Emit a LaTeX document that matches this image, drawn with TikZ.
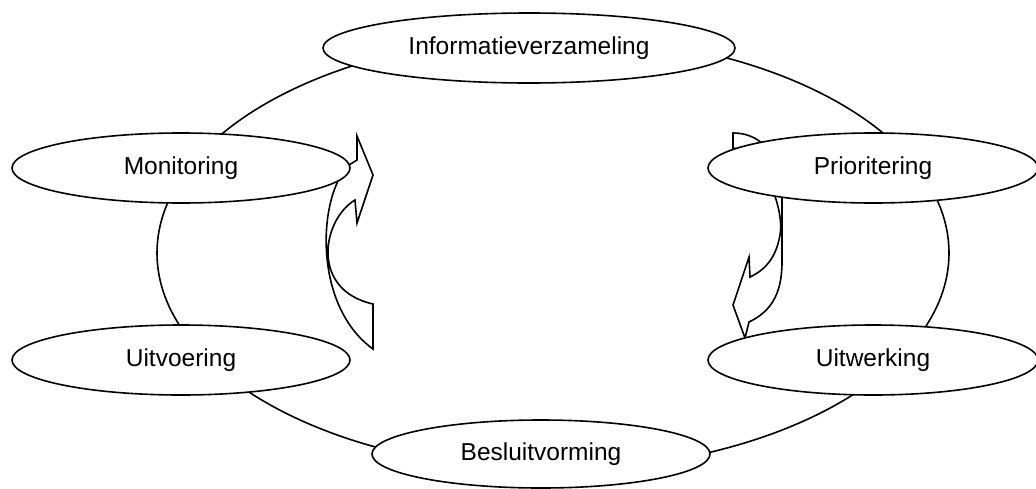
\documentclass[tikz,border=0pt]{standalone}
\usepackage{fontspec}
\setmainfont{Liberation Sans}
\usetikzlibrary{shapes.geometric}
\tikzset{stage/.style = {shape = ellipse, draw, fill = white, line width = 1.6pt, inner sep = 0pt, minimum height = 70pt, font = \fontsize{24.5}{29}\selectfont}}
\tikzset{turnarrow/.style = {draw, fill = white, line width = 1.6pt, line join = miter}}

\begin{document}
\begin{tikzpicture}[x = 1pt, y = -1pt]
				\useasboundingbox (0, 0) rectangle (1036, 488);

				\coordinate (mid) at (553, 253);
				\draw[line width = 1.6pt] (mid) ellipse [x radius = 396pt, y radius = 217pt];

				\draw[turnarrow] (349, 165) -- (357, 160) -- (357, 136) -- (373, 175) -- (357, 223) -- (355, 200)
					.. controls (322, 220) and (310, 290) .. (373, 304) -- (373, 349)
					.. controls (312, 305) and (318, 195) .. (349, 165) -- cycle;
				\draw[turnarrow] (733, 133) .. controls (768, 133) and (782, 165) .. (782, 200) -- (782, 262)
					.. controls (782, 295) and (770, 312) .. (749, 322) -- (745, 338) -- (733, 305) -- (749, 257) -- (750, 277)
					.. controls (765, 270) and (776, 258) .. (780, 235)
					.. controls (785, 205) and (760, 150) .. (733, 148) -- cycle;

				\node[stage, minimum width = 412pt] (info) at (529, 48) {Informatieverzameling};
				\node[stage, minimum width = 330pt] (prior) at (873, 168) {Prioritering};
				\node[stage, minimum width = 330pt] (uitw) at (873, 360) {Uitwerking};
				\node[stage, minimum width = 338pt, minimum height = 68pt] (besl) at (541, 454) {Besluitvorming};
				\node[stage, minimum width = 338pt] (uitv) at (181, 360) {Uitvoering};
				\node[stage, minimum width = 338pt] (moni) at (181, 168) {Monitoring};
			\end{tikzpicture}
\end{document}
